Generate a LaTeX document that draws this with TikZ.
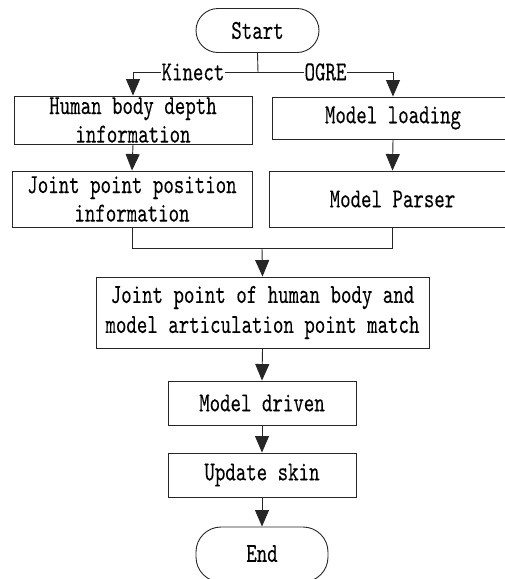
\documentclass[tikz,border=0pt]{standalone}
\usepackage{fontspec}
\usetikzlibrary{arrows.meta}

% condensed monospaced lettering used for every label
\newfontfamily\boxfont{lmmono10-regular.otf}[FakeStretch=0.725, FakeBold=0.12]

\tikzset{
  wire/.style={line width=0.9pt, draw=black!85},
  stepbox/.style={draw=black!85, line width=0.9pt, inner sep=0pt, align=center,
    font=\fontsize{27.5}{28.5}\selectfont\boxfont},
  terminal/.style={stepbox, rounded corners=22pt},
  arr/.style={wire, -{Triangle[width=14pt,length=16.5pt]}},
  lab/.style={fill=white, inner xsep=0.5pt, inner ysep=1pt,
    font=\fontsize{27.5}{28.5}\selectfont\boxfont},
}

\begin{document}
\begin{tikzpicture}[x=1pt, y=-1pt]
  \useasboundingbox (0,0) rectangle (505,579);
  \clip (0,0) rectangle (505,579);

  % nodes
  \node[terminal, minimum width=123pt, minimum height=44pt] (start) at (257.5,30.5) {Start};
  \coordinate (split) at (258,72);

  \node[stepbox, minimum width=238pt, minimum height=48pt] (h1) at (133,120)
    {Human body depth\\information};
  \node[stepbox, minimum width=242pt, minimum height=42pt] (m1) at (393,118)
    {Model loading};

  \node[stepbox, minimum width=240pt, minimum height=56pt] (j1) at (132,199)
    {Joint point position\\information};
  \node[stepbox, minimum width=247pt, minimum height=56pt] (p2) at (392.5,199)
    {Model Parser};

  \coordinate (merge) at (262,248);

  \node[stepbox, minimum width=333pt, minimum height=71pt] (match) at (262.5,312.5)
    {Joint point of human body and\\[1.5pt]model articulation point match};

  \node[stepbox, minimum width=188pt, minimum height=44pt] (driven) at (262,403)
    {Model driven};
  \node[stepbox, minimum width=188pt, minimum height=44pt] (skin) at (262,475)
    {Update skin};
  \node[terminal, rounded corners=25pt, minimum width=132pt, minimum height=55pt] (end) at (262,554.5)
    {\raisebox{2pt}{End}};

  % connectors
  \draw[wire] (start.south) -- (split);
  \draw[arr] (split) -| node[lab, pos=0.26] {Kinect} (h1.north);
  \draw[arr] (split) -| node[lab, pos=0.25] {OGRE} (m1.north);

  \draw[arr] (h1.south) -- (j1.north);
  \draw[arr] (m1.south) -- (p2.north);

  \draw[wire] (j1.south) |- (merge);
  \draw[wire] (p2.south) |- (merge);
  \draw[arr] (merge) -- (match.north);

  \draw[arr] (match.south) -- (driven.north);
  \draw[arr] (driven.south) -- (skin.north);
  \draw[arr] (skin.south) -- (end.north);
\end{tikzpicture}
\end{document}
